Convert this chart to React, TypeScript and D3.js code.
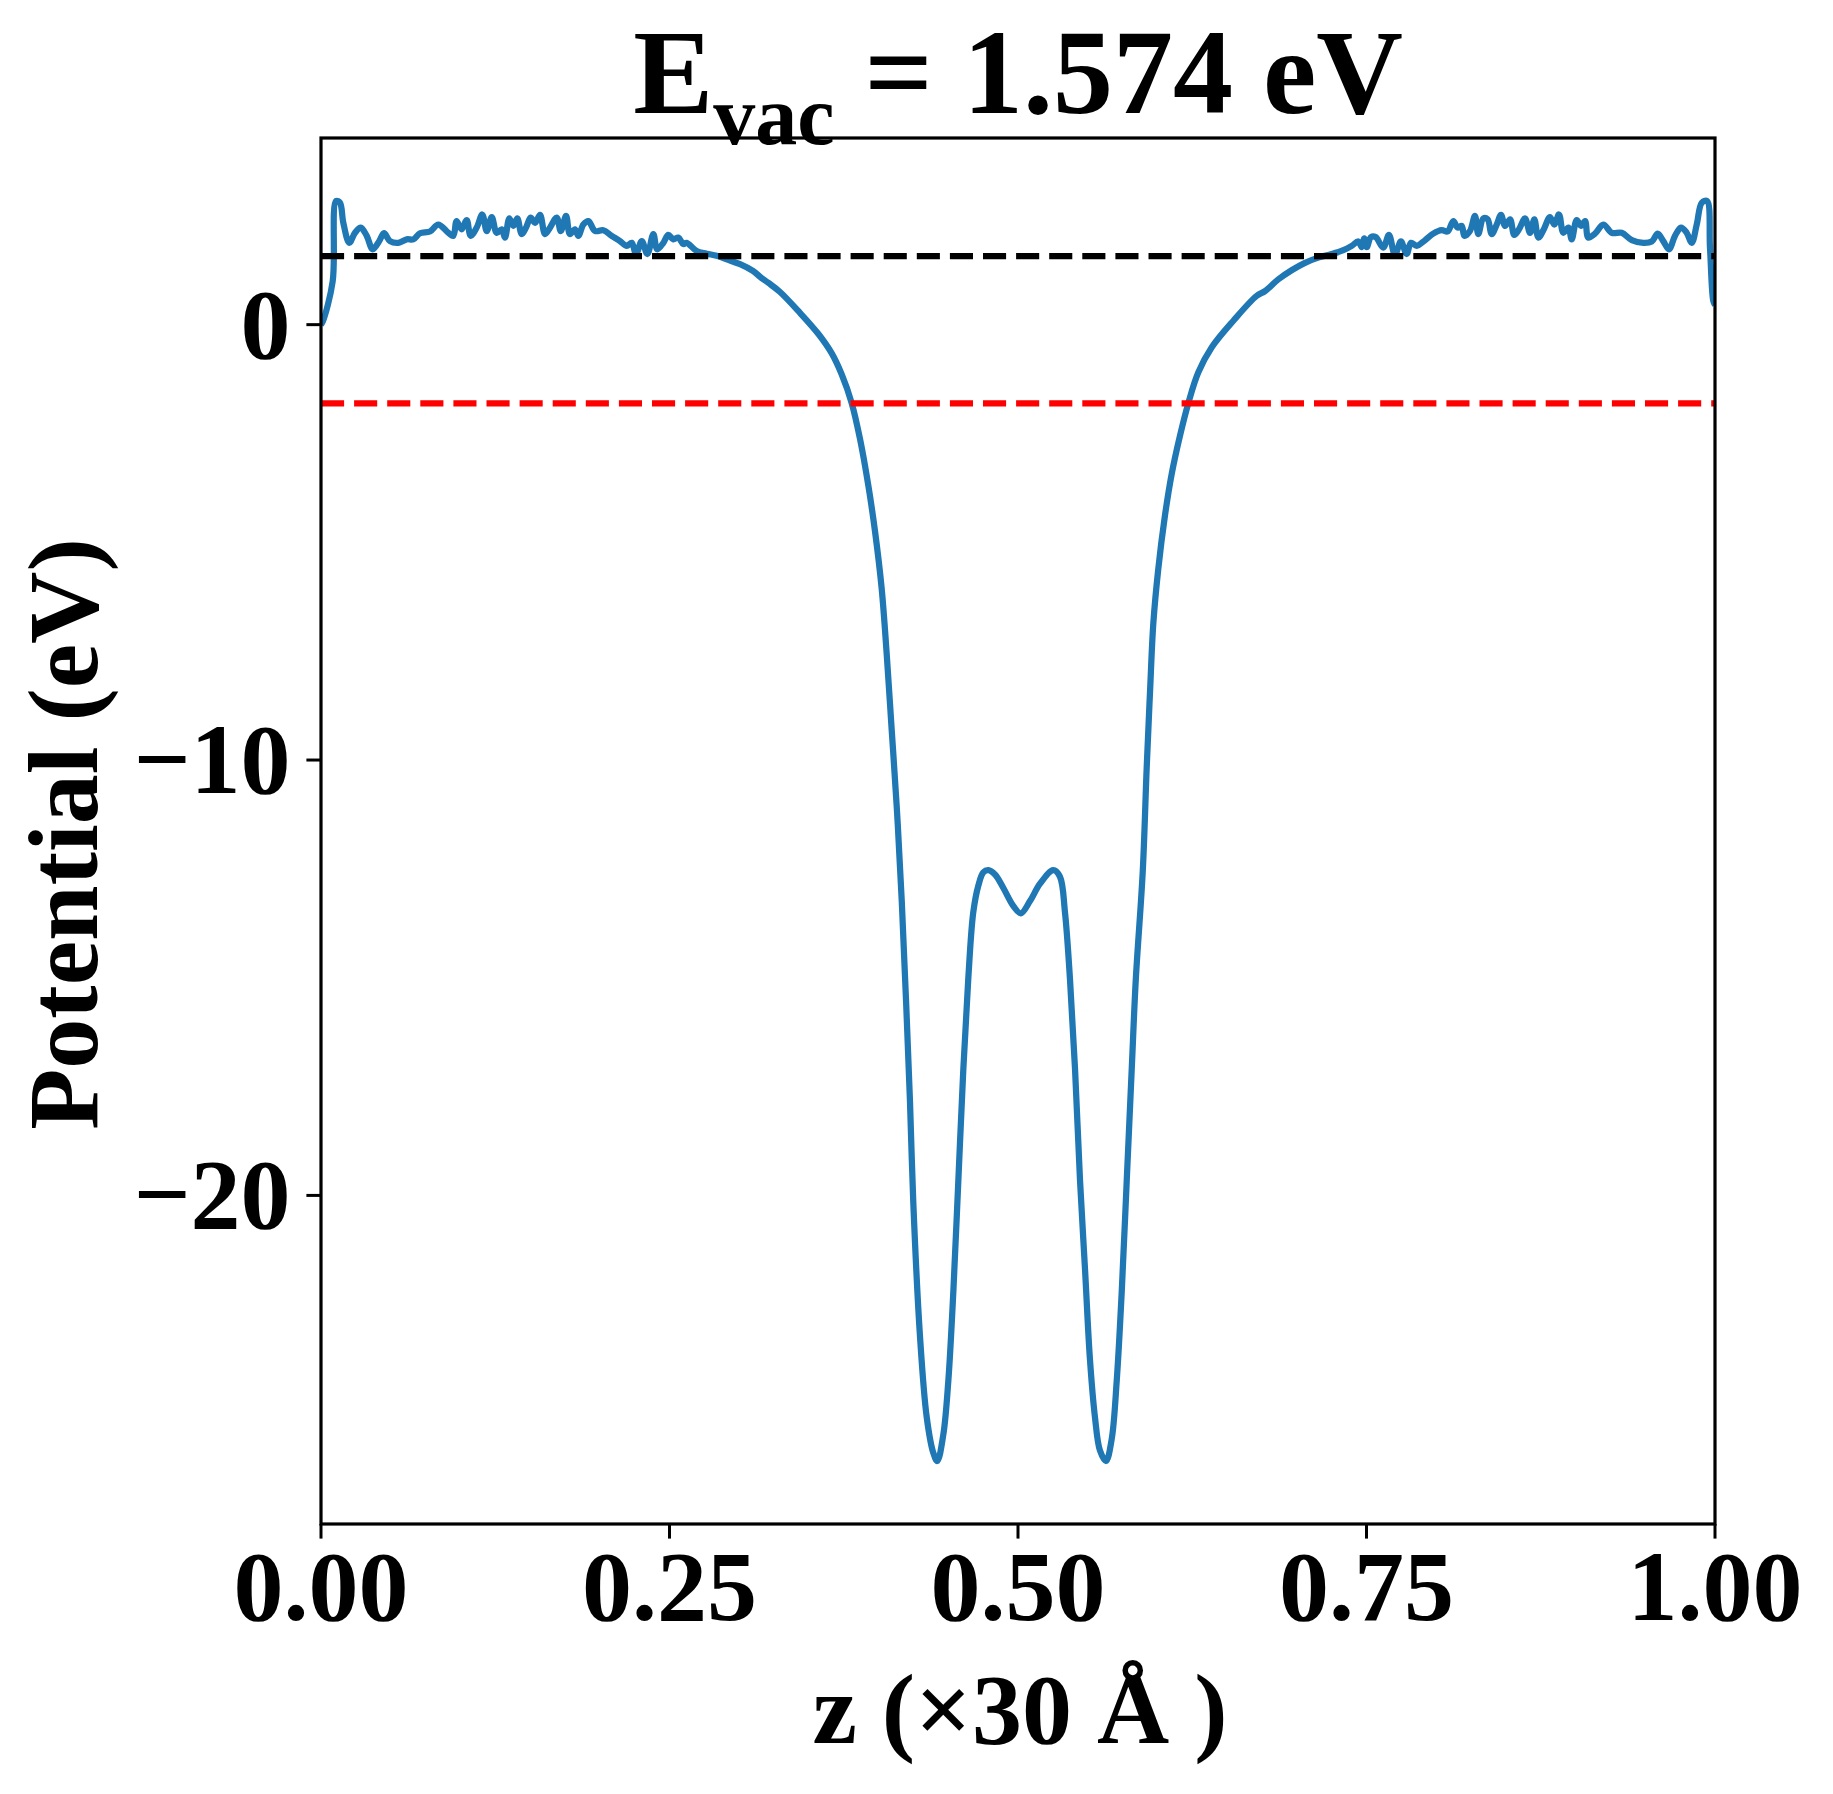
import * as d3 from "d3";
import React from "react";

// electrostatic potential profile along z (fraction of the 30 Å cell), eV
const potentialProfile: [number, number][] = [
  [0.0, 0.0], [0.0014, 0.08], [0.0084, 1.0], [0.0108, 2.84], [0.0136, 2.8],
  [0.016, 2.34], [0.0203, 1.88], [0.0244, 2.11], [0.0285, 2.23], [0.0328, 2.04],
  [0.0371, 1.73], [0.0418, 1.92], [0.0452, 2.1], [0.0495, 1.92], [0.0555, 1.88],
  [0.0615, 1.96], [0.0662, 1.96], [0.071, 2.1], [0.0782, 2.14], [0.0841, 2.3],
  [0.0913, 2.11], [0.0949, 2.04], [0.0973, 2.38], [0.1009, 2.19], [0.1045, 2.4],
  [0.1074, 2.04], [0.1117, 2.23], [0.1157, 2.53], [0.1189, 2.15], [0.1225, 2.47],
  [0.126, 2.11], [0.1296, 2.19], [0.132, 2.0], [0.1351, 2.44], [0.138, 2.27],
  [0.1408, 2.44], [0.144, 2.08], [0.1471, 2.23], [0.1504, 2.46], [0.1535, 2.34],
  [0.1571, 2.52], [0.1607, 2.08], [0.1643, 2.23], [0.1691, 2.46], [0.172, 2.15],
  [0.1758, 2.5], [0.1786, 2.08], [0.1822, 2.19], [0.1846, 2.04], [0.1882, 2.3],
  [0.1918, 2.38], [0.1966, 2.15], [0.2025, 2.17], [0.2085, 2.04], [0.2145, 1.92],
  [0.2193, 1.81], [0.2229, 1.88], [0.226, 1.62], [0.2301, 1.92], [0.2341, 1.62],
  [0.2384, 2.08], [0.2412, 1.73], [0.2456, 1.88], [0.2491, 2.06], [0.2527, 1.96],
  [0.2563, 2.0], [0.2599, 1.85], [0.2623, 1.88], [0.2695, 1.69], [0.2767, 1.63],
  [0.2838, 1.58], [0.291, 1.5], [0.3006, 1.39], [0.3101, 1.23], [0.3149, 1.1],
  [0.3209, 0.96], [0.3293, 0.75], [0.3436, 0.27], [0.3567, -0.21], [0.3664, -0.66],
  [0.3735, -1.14], [0.3807, -1.8], [0.3867, -2.63], [0.3926, -3.69], [0.3974, -4.74],
  [0.4022, -6.06], [0.4058, -7.56], [0.4094, -9.31], [0.413, -11.07], [0.4166, -13.23],
  [0.4225, -17.83], [0.4249, -20.17], [0.4297, -23.24], [0.4345, -25.09],
  [0.4392, -25.91], [0.4421, -26.1], [0.4464, -25.5], [0.45, -24.27], [0.4536, -22.22],
  [0.4572, -19.66], [0.4608, -17.09], [0.4643, -15.04], [0.4679, -13.5], [0.4715, -12.89],
  [0.4751, -12.58], [0.4787, -12.53], [0.4835, -12.63], [0.4895, -12.94], [0.4966, -13.35],
  [0.502, -13.52], [0.5086, -13.24], [0.5158, -12.84], [0.5253, -12.53], [0.5301, -12.68],
  [0.5337, -13.5], [0.5373, -15.04], [0.5409, -17.09], [0.5445, -19.66], [0.5481, -21.71],
  [0.5516, -23.76], [0.5552, -25.09], [0.5588, -25.86], [0.5631, -26.1], [0.5672, -25.6],
  [0.5708, -24.27], [0.5744, -22.22], [0.578, -19.66], [0.5816, -17.09], [0.5845, -15.04],
  [0.5895, -12.55], [0.5923, -10.19], [0.5947, -8.44], [0.5971, -6.85], [0.6006, -5.62],
  [0.6054, -4.39], [0.6103, -3.42], [0.6162, -2.55], [0.6222, -1.8], [0.6293, -1.1],
  [0.639, -0.52], [0.6545, 0.09], [0.6712, 0.66], [0.6772, 0.77], [0.6867, 1.04],
  [0.6963, 1.25], [0.7059, 1.42], [0.7154, 1.54], [0.725, 1.62], [0.7334, 1.71],
  [0.7394, 1.81], [0.7441, 1.91], [0.7466, 1.78], [0.7484, 1.98], [0.7502, 1.78],
  [0.7532, 2.01], [0.7566, 2.01], [0.762, 1.77], [0.7661, 2.06], [0.7704, 1.6],
  [0.7747, 1.91], [0.7788, 1.62], [0.7819, 1.88], [0.786, 1.81], [0.792, 1.94],
  [0.7979, 2.09], [0.8039, 2.17], [0.8082, 2.14], [0.8123, 2.38], [0.8154, 2.23],
  [0.8183, 2.27], [0.8202, 2.04], [0.8242, 2.15], [0.8278, 2.5], [0.8302, 2.08],
  [0.8338, 2.44], [0.8369, 2.42], [0.8398, 2.08], [0.8434, 2.3], [0.8465, 2.52],
  [0.8494, 2.27], [0.853, 2.42], [0.856, 2.06], [0.8594, 2.19], [0.8637, 2.44],
  [0.8673, 2.11], [0.8704, 2.42], [0.8733, 2.0], [0.8769, 2.17], [0.8816, 2.47],
  [0.8847, 2.3], [0.8881, 2.53], [0.8912, 2.11], [0.8948, 2.23], [0.8972, 1.96],
  [0.9008, 2.4], [0.9039, 2.27], [0.9068, 2.38], [0.9091, 2.0], [0.9139, 2.09],
  [0.9199, 2.3], [0.9259, 2.11], [0.9331, 2.11], [0.9403, 1.94], [0.9486, 1.88],
  [0.9546, 1.91], [0.9589, 2.09], [0.9629, 1.92], [0.967, 1.73], [0.9713, 2.04],
  [0.9756, 2.23], [0.9797, 2.11], [0.9833, 1.88], [0.9869, 2.3], [0.9905, 2.8],
  [0.9943, 2.84], [0.9964, 1.77], [0.9988, 0.54], [1.0, 0.45],
];

const vacuumLevel = 1.574;
const fermiLevel = -1.81;
const xTicks = [0, 0.25, 0.5, 0.75, 1.0];
const yTicks = [0, -10, -20];

const width = 1833;
const height = 1794;
const margin = { top: 138, right: 118, bottom: 270, left: 321 };
const font = "'Liberation Serif', 'Times New Roman', serif";

export default function App() {
  const x0 = margin.left;
  const x1 = width - margin.right;
  const y0 = margin.top;
  const y1 = height - margin.bottom;

  const vMin = d3.min(potentialProfile, (d) => d[1]) as number;
  const vMax = d3.max(potentialProfile, (d) => d[1]) as number;
  const pad = (vMax - vMin) * 0.05;

  const xScale = d3.scaleLinear().domain([0, 1]).range([x0, x1]);
  const yScale = d3
    .scaleLinear()
    .domain([vMin - pad, vMax + pad])
    .range([y1, y0]);

  // smooth through the read-off points so the wells stay rounded
  const line = d3
    .line<[number, number]>()
    .x((d) => xScale(d[0]))
    .y((d) => yScale(d[1]))
    .curve(d3.curveCatmullRom.alpha(0.5));

  const tickLen = 14.6;
  const lw = 6.25;
  const fmtX = d3.format(".2f");
  const fmtY = (v: number) => (v < 0 ? "\u2212" + Math.abs(v) : String(v));

  return (
    <div>
      <style>{`body{margin:0}`}</style>
      <svg width={width} height={height} style={{ display: "block", background: "#fff" }}>
        <defs>
          <clipPath id="plot-clip">
            <rect x={x0} y={y0} width={x1 - x0} height={y1 - y0} />
          </clipPath>
        </defs>

        <g clipPath="url(#plot-clip)">
          <path
            d={line(potentialProfile) || ""}
            fill="none"
            stroke="#1f77b4"
            strokeWidth={lw}
            strokeLinejoin="round"
          />
          <line
            x1={x0}
            x2={x1}
            y1={yScale(vacuumLevel)}
            y2={yScale(vacuumLevel)}
            stroke="#000"
            strokeWidth={lw}
            strokeDasharray="23.1 10"
          />
          <line
            x1={x0}
            x2={x1}
            y1={yScale(fermiLevel)}
            y2={yScale(fermiLevel)}
            stroke="#ff0000"
            strokeWidth={lw}
            strokeDasharray="23.1 10"
          />
        </g>

        {/* frame */}
        <rect
          x={x0}
          y={y0}
          width={x1 - x0}
          height={y1 - y0}
          fill="none"
          stroke="#000"
          strokeWidth={3.2}
        />

        {/* x ticks */}
        {xTicks.map((t) => (
          <g key={"x" + t}>
            <line
              x1={xScale(t)}
              x2={xScale(t)}
              y1={y1}
              y2={y1 + tickLen}
              stroke="#000"
              strokeWidth={3}
            />
            <text
              x={xScale(t)}
              y={1620}
              textAnchor="middle"
              fontFamily={font}
              fontWeight="bold"
              fontSize={100}
            >
              {fmtX(t)}
            </text>
          </g>
        ))}

        {/* y ticks */}
        {yTicks.map((t) => (
          <g key={"y" + t}>
            <line
              x1={x0 - tickLen}
              x2={x0}
              y1={yScale(t)}
              y2={yScale(t)}
              stroke="#000"
              strokeWidth={3}
            />
            <text
              x={x0 - tickLen - 16}
              y={yScale(t) + 33}
              textAnchor="end"
              fontFamily={font}
              fontWeight="bold"
              fontSize={100}
            >
              {fmtY(t)}
            </text>
          </g>
        ))}

        {/* axis labels */}
        <text
          x={(x0 + x1) / 2 + 2}
          y={1743}
          textAnchor="middle"
          fontFamily={font}
          fontWeight="bold"
          fontSize={100}
        >
          z (×30 Å )
        </text>
        <text
          transform={`translate(97, ${(y0 + y1) / 2 + 3}) rotate(-90)`}
          textAnchor="middle"
          fontFamily={font}
          fontWeight="bold"
          fontSize={100}
        >
          Potential (eV)
        </text>

        {/* title */}
        <text
          x={(x0 + x1) / 2}
          y={113}
          textAnchor="middle"
          fontFamily={font}
          fontWeight="bold"
          fontSize={120}
        >
          E
          <tspan fontSize={84} dy={31}>
            vac
          </tspan>
          <tspan dy={-31}> = 1.574 eV</tspan>
        </text>
      </svg>
    </div>
  );
}
